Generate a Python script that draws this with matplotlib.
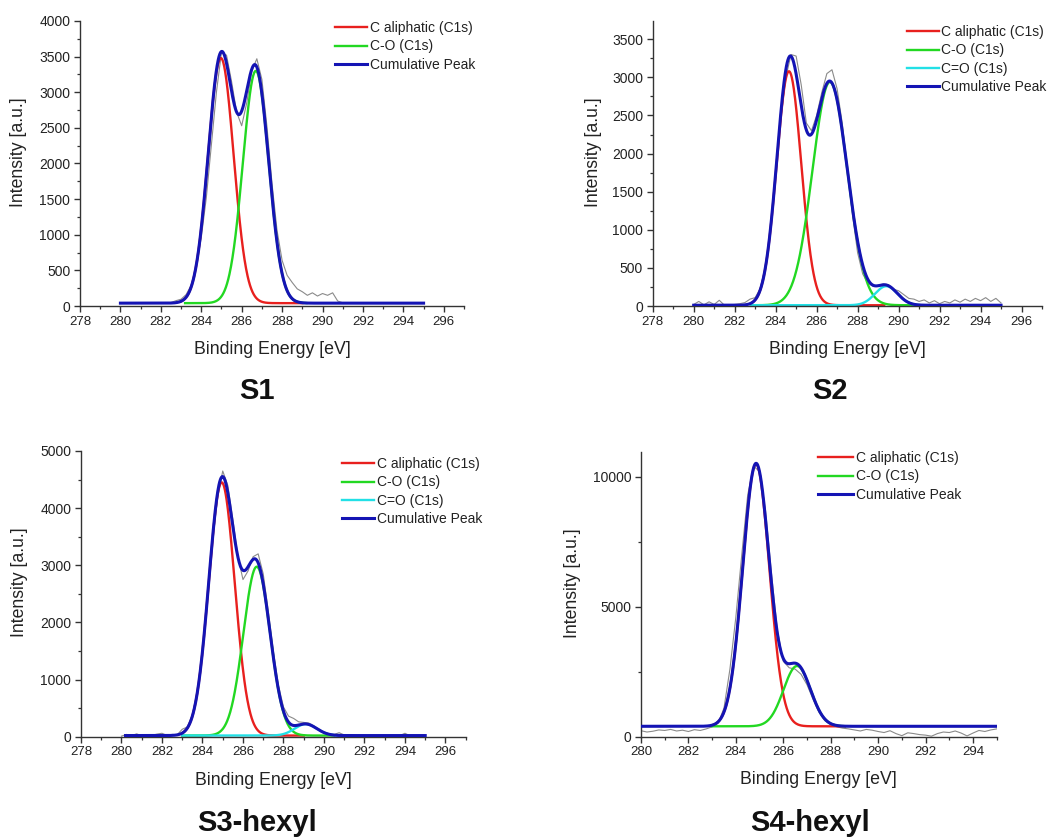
import numpy as np
import matplotlib
matplotlib.use("Agg")
import matplotlib.pyplot as plt
from matplotlib.ticker import MultipleLocator

plt.rcParams['font.family'] = ['Liberation Sans', 'DejaVu Sans']

# ---------------- data ----------------
panel_titles = ["S1", "S2", "S3-hexyl", "S4-hexyl"]
component_names = ["C aliphatic (C1s)", "C-O (C1s)", "C=O (C1s)"]

# raw spectra sampled every 0.25 eV from 280 to 295 eV
raw_energy_start, raw_energy_stop, raw_energy_step = 280.0, 295.0, 0.25
raw_s1 = [45, 38, 42, 35, 44, 40, 36, 45, 39, 42, 48, 75, 95, 160, 290, 560,
          960, 1520, 2260, 3000, 3560, 3520, 3150, 2720, 2530, 2850, 3300, 3470,
          3180, 2520, 1720, 1060, 640, 430, 330, 240, 200, 150, 185, 140, 175,
          150, 185, 70, 45, 38, 44, 36, 42, 39, 45, 37, 41, 44, 36, 42, 39, 45,
          38, 42, 40]
raw_s2 = [20, 60, 15, 55, 20, 75, 10, 15, 20, 30, 45, 90, 110, 230, 520, 1000,
          1700, 2450, 3000, 3300, 3280, 2900, 2400, 2300, 2500, 2800, 3050, 3100,
          2850, 2400, 1800, 1200, 700, 420, 300, 260, 270, 290, 280, 220, 200,
          150, 100, 90, 60, 80, 40, 70, 30, 60, 40, 80, 50, 90, 60, 100, 70, 110,
          60, 100, 40]
raw_s3 = [10, 40, 20, 50, 15, 30, 25, 45, 60, 20, 40, 35, 130, 170, 380, 800,
          1500, 2400, 3400, 4200, 4650, 4400, 3800, 3150, 2750, 2900, 3150, 3200,
          2850, 2200, 1500, 900, 520, 360, 320, 260, 250, 240, 190, 130, 80, 50,
          40, 70, 30, 20, 15, 25, 10, 20, 15, 10, 20, 15, 10, 20, 60, 15, 20, 10,
          15]
raw_s4 = [230, 180, 210, 260, 240, 280, 220, 250, 200, 270, 240, 300, 380, 520,
          1100, 2600, 4600, 7000, 9300, 10400, 10200, 8700, 6300, 4100, 2900,
          2650, 2600, 2400, 2000, 1450, 950, 620, 460, 380, 330, 300, 260, 220,
          280, 250, 200, 160, 230, 120, 40, 150, 120, 80, 60, 20, 120, 180, 160,
          220, 140, 30, 140, 240, 200, 260, 300]
raw_spectra = [raw_s1, raw_s2, raw_s3, raw_s4]

# fitted peaks: baseline, then per component (center eV, height, sigma eV)
baselines = [40, 10, 20, 400]
peak_centers = [[284.97, 286.70], [284.65, 286.65, 289.40],
                [284.95, 286.68, 289.10], [284.85, 286.58]]
peak_heights = [[3440, 3260], [3070, 2930, 250], [4430, 2955, 200], [10090, 2320]]
peak_sigmas = [[0.63, 0.64], [0.60, 0.85, 0.55], [0.64, 0.66, 0.55], [0.56, 0.57]]
component_ranges = [[(283.0, 289.0), (283.2, 289.2)],
                    [(282.8, 289.3), (282.8, 291.0), (282.8, 291.0)],
                    [(283.0, 289.0), (283.0, 290.5), (283.0, 290.8)],
                    [(283.0, 288.6), (283.0, 288.6)]]
cumulative_range = [(280.0, 295.0), (280.0, 295.0), (280.2, 295.0), (280.0, 295.0)]

x_limits = [(278, 297), (278, 297), (278, 297), (280, 295)]
y_limits = [(0, 4000), (0, 3740), (0, 5000), (0, 10960)]
y_major = [500, 500, 1000, 5000]
x_major = 2

# ---------------- styling / layout ----------------
W, H = 1052, 839
fig = plt.figure(figsize=(W / 100, H / 100), dpi=100)

def px_axes(l, r, t, b):
    return fig.add_axes([l / W, 1 - b / H, (r - l) / W, (b - t) / H])

axes_px = [(80, 464, 21, 306), (652.7, 1042, 21, 306),
           (81, 465.7, 451, 736.7), (641, 996.7, 451.7, 736.7)]
legend_px = [(335, 21), (906.7, 25), (342, 457), (818, 451)]
title_px = [(257, 391), (830, 391), (257, 823), (810, 823)]
ylabel_x = [-0.138, -0.130, -0.138, -0.168]
handle_len = [2.3, 2.3, 2.3, 2.5]

comp_colors = ["#e8201e", "#22d822", "#22e0e6"]
cum_color = "#1414b4"
raw_color = "#8a8a8a"
text_color = "#222222"
axis_color = "#333333"

raw_energy = np.arange(raw_energy_start, raw_energy_stop + raw_energy_step / 2, raw_energy_step)

def gauss(x, c, h, s):
    return h * np.exp(-(x - c) ** 2 / (2 * s ** 2))

for i in range(4):
    ax = px_axes(*axes_px[i])
    ax.plot(raw_energy, raw_spectra[i], color=raw_color, lw=0.8, zorder=1)
    handles = []
    for k, (c, h, s) in enumerate(zip(peak_centers[i], peak_heights[i], peak_sigmas[i])):
        lo, hi = component_ranges[i][k]
        xx = np.linspace(lo, hi, 400)
        ln, = ax.plot(xx, baselines[i] + gauss(xx, c, h, s), color=comp_colors[k],
                      lw=1.7, zorder=2, label=component_names[k])
        handles.append(ln)
    lo, hi = cumulative_range[i]
    xx = np.linspace(lo, hi, 800)
    total = baselines[i] + sum(gauss(xx, c, h, s) for c, h, s in
                               zip(peak_centers[i], peak_heights[i], peak_sigmas[i]))
    ln, = ax.plot(xx, total, color=cum_color, lw=2.2, zorder=3, label="Cumulative Peak")
    handles.append(ln)

    ax.set_xlim(*x_limits[i])
    ax.set_ylim(*y_limits[i])
    ax.xaxis.set_major_locator(MultipleLocator(x_major))
    ax.xaxis.set_minor_locator(MultipleLocator(x_major / 2))
    ax.yaxis.set_major_locator(MultipleLocator(y_major[i]))
    ax.yaxis.set_minor_locator(MultipleLocator(y_major[i] / 2))
    for sp in ["top", "right"]:
        ax.spines[sp].set_visible(False)
    for sp in ["left", "bottom"]:
        ax.spines[sp].set_color(axis_color)
        ax.spines[sp].set_linewidth(1.0)
    ax.tick_params(which="major", direction="out", length=4, width=1.0,
                   colors=axis_color, labelcolor=text_color, pad=3)
    ax.tick_params(axis="x", which="major", labelsize=9.5)
    ax.tick_params(axis="y", which="major", labelsize=10)
    ax.tick_params(which="minor", direction="out", length=2.5, width=0.9,
                   colors=axis_color)
    ax.set_xlabel("Binding Energy [eV]", fontsize=12.8, color=text_color)
    ax.set_ylabel("Intensity [a.u.]", fontsize=12.7, color=text_color)
    ax.xaxis.set_label_coords(0.5, -0.122)
    ax.yaxis.set_label_coords(ylabel_x[i], 0.54)
    ax.patch.set_alpha(0)

    lx, ly = legend_px[i]
    fig.legend(handles=handles, loc="upper left",
               bbox_to_anchor=(lx / W, 1 - ly / H), frameon=False,
               fontsize=10, borderpad=0, borderaxespad=0, handlelength=handle_len[i],
               handletextpad=0.2, labelspacing=0.32, labelcolor=text_color)

    tx, ty = title_px[i]
    fig.text(tx / W, 1 - ty / H, panel_titles[i], ha="center", va="center",
             fontsize=21, fontweight="bold", color="#111111")

fig.savefig("out.png", dpi=100)
